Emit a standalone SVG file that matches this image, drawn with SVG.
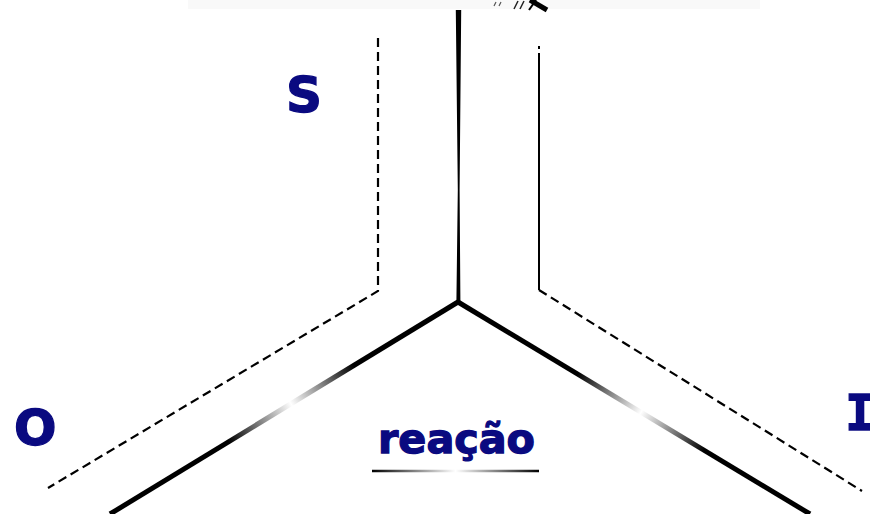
<svg xmlns="http://www.w3.org/2000/svg" width="870" height="514" viewBox="0 0 870 514">
  <defs>
    <style>
      .lbl { font-family: "DejaVu Sans", Verdana, sans-serif; font-weight: bold; fill: #0a0a80; stroke: #0a0a80; stroke-width: 1.3; }
      .dash { fill: none; stroke: #000; stroke-width: 2.2; stroke-dasharray: 9 5; }
      .solid { fill: none; stroke: #000; stroke-width: 2; }
    </style>
    <linearGradient id="gL" gradientUnits="userSpaceOnUse" x1="458" y1="302" x2="110" y2="514">
      <stop offset="0" stop-color="#000"/>
      <stop offset="0.3" stop-color="#000"/>
      <stop offset="0.48" stop-color="#fff"/>
      <stop offset="0.66" stop-color="#000"/>
      <stop offset="1" stop-color="#000"/>
    </linearGradient>
    <linearGradient id="gR" gradientUnits="userSpaceOnUse" x1="458" y1="302" x2="810" y2="514">
      <stop offset="0" stop-color="#000"/>
      <stop offset="0.34" stop-color="#000"/>
      <stop offset="0.52" stop-color="#fff"/>
      <stop offset="0.7" stop-color="#000"/>
      <stop offset="1" stop-color="#000"/>
    </linearGradient>
    <linearGradient id="gU" gradientUnits="userSpaceOnUse" x1="372" y1="0" x2="539" y2="0">
      <stop offset="0" stop-color="#000"/>
      <stop offset="0.5" stop-color="#fff"/>
      <stop offset="1" stop-color="#000"/>
    </linearGradient>
  </defs>
  <rect width="870" height="514" fill="#fff"/>

  <g id="top-fragment">
    <rect x="188" y="0" width="572" height="9" fill="#f9f9f9"/>
    <path d="M530 0 L547 10" stroke="#000" stroke-width="5" fill="none"/>
    <path d="M536 0 L529 10" stroke="#000" stroke-width="2" fill="none"/>
    <path d="M524 1 L520 9 M518 1 L514 9" stroke="#222" stroke-width="1.5" fill="none"/>
    <path d="M496 2 L494 6 M501 2 L499 6" stroke="#555" stroke-width="1.2" fill="none"/>
  </g>

  <g id="connectors">
    <polygon points="455.8,10 461.2,10 459.6,190 460.4,302 456.4,302 457.8,190" fill="#000"/>
    <path d="M458 302 L110 514" stroke="url(#gL)" stroke-width="5" fill="none"/>
    <path d="M458 302 L810 514" stroke="url(#gR)" stroke-width="5" fill="none"/>
    <path class="dash" d="M378 38 L378 291 L48 488"/>
    <path class="solid" d="M539 46 L539 49 M539 53 L539 290"/>
    <path class="dash" d="M539 290 L862 491"/>
    <path d="M372 471 L539 471" stroke="url(#gU)" stroke-width="2.5" fill="none"/>
  </g>

  <g id="node-S"><text class="lbl" x="286" y="112" font-size="50">S</text></g>
  <g id="node-O"><text class="lbl" x="14" y="445" font-size="50">O</text></g>
  <g id="node-I"><text class="lbl" x="845" y="430" font-size="50" style="font-family:'DejaVu Sans Mono', monospace">I</text></g>
  <g id="node-reacao"><text class="lbl" x="378" y="453" font-size="41" textLength="157" lengthAdjust="spacingAndGlyphs">reação</text></g>
</svg>
